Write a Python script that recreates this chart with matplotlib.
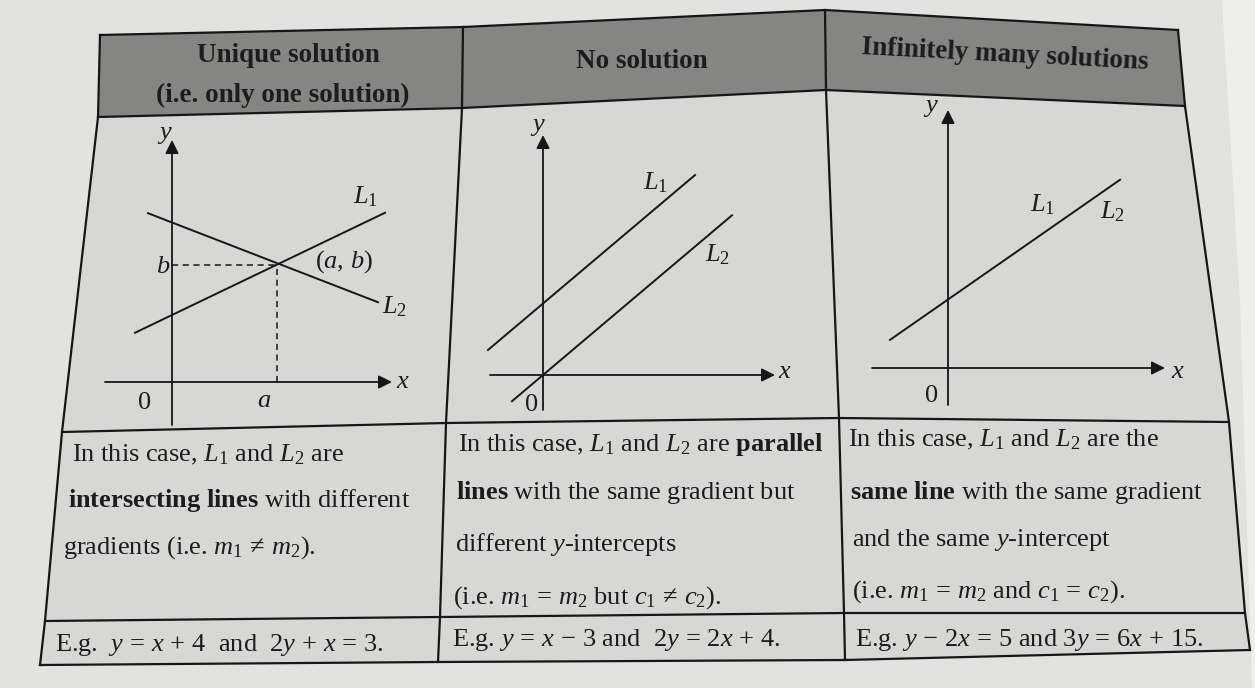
import matplotlib
matplotlib.use('Agg')
import matplotlib.pyplot as plt
from matplotlib.patches import Polygon
import numpy as np

plt.rcParams['font.family'] = ['Liberation Serif', 'DejaVu Serif']
plt.rcParams['mathtext.fontset'] = 'custom'
plt.rcParams['mathtext.rm'] = 'Liberation Serif'
plt.rcParams['mathtext.it'] = 'Liberation Serif:italic'
plt.rcParams['mathtext.bf'] = 'Liberation Serif:bold'
plt.rcParams['mathtext.fallback'] = 'stix'

# ---- table text ----
headers = [['Unique solution', '(i.e. only one solution)'],
           ['No solution'],
           ['Infinitely many solutions']]

descriptions = [
    [r'In this case, $L_1$ and $L_2$ are',
     r'$\mathbf{intersecting\ lines}$ with different',
     r'gradients (i.e. $m_1 \,\neq\, m_2$).'],
    [r'In this case, $L_1$ and $L_2$ are $\mathbf{parallel}$',
     r'$\mathbf{lines}$ with the same gradient but',
     r'different $y$-intercepts',
     r'(i.e. $m_1 \,=\, m_2$ but $c_1 \,\neq\, c_2$).'],
    [r'In this case, $L_1$ and $L_2$ are the',
     r'$\mathbf{same\ line}$ with the same gradient',
     r'and the same $y$-intercept',
     r'(i.e. $m_1 \,=\, m_2$ and $c_1 \,=\, c_2$).'],
]

examples = [r'E.g.  $y \,=\, x \,+\, 4$  and  $2y \,+\, x \,=\, 3$.',
            r'E.g. $y \,=\, x \,-\, 3$ and  $2y \,=\, 2x \,+\, 4$.',
            r'E.g. $y \,-\, 2x \,=\, 5$ and $3y \,=\, 6x \,+\, 15$.']

# ---- sketch data (each sketch in its own units) ----
# unique solution: intersection point (a, b)
a_pt, b_pt = 2.1, 2.35
unique_lines = {'L1': (0.48, 1.34, -0.74, 4.26),     # slope, intercept, x from, x to
                'L2': (-0.387, 3.19, -0.48, 4.12)}
parallel_lines = {'L1': (0.845, 1.43, -1.1, 3.04),
                  'L2': (0.845, 0.0, -0.62, 3.78)}
same_lines = {'L1': (0.696, 1.37, -1.16, 3.44)}

x_axis_span = [(-1.34, 4.4), (-1.06, 4.64), (-1.52, 4.34)]
y_axis_span = [(-0.86, 4.84), (-0.7, 4.8), (-0.74, 5.16)]

W, H = 1255, 688
fig = plt.figure(figsize=(W / 100, H / 100), dpi=100)
fig.patch.set_facecolor('#e2e2e0')
ax = fig.add_axes([0, 0, 1, 1])
ax.set_xlim(0, W)
ax.set_ylim(H, 0)
ax.axis('off')

# page edge on the right
ax.add_patch(Polygon([(1222, 0), (W, 0), (W, H), (1252, H), (1240, 300)],
                     closed=True, fc='#eeeeed', ec='none', zorder=0))

# table grid nodes (rows: top, header bottom, sketch bottom, text bottom, bottom)
nodes = np.array([
    [(100, 35), (463, 27), (825, 10), (1178, 30)],
    [(98, 117), (462, 108), (826, 90), (1185, 106)],
    [(62, 432), (446, 423), (839, 418), (1229, 422)],
    [(45, 621), (440, 617), (844, 613), (1245, 613)],
    [(40, 665), (438, 662), (845, 660), (1250, 650)],
], dtype=float)

body = list(nodes[1]) + [nodes[2][3], nodes[3][3]] + list(nodes[4][::-1]) \
    + [nodes[3][0], nodes[2][0]]
ax.add_patch(Polygon(body, closed=True, fc='#d7d7d5', ec='none', zorder=1))
head = list(nodes[0]) + list(nodes[1][::-1])
ax.add_patch(Polygon(head, closed=True, fc='#858583', ec='none', zorder=1))

lc = '#161616'
for r in range(nodes.shape[0]):
    ax.plot(nodes[r, :, 0], nodes[r, :, 1], color=lc, lw=1.6, zorder=3)
for c in range(nodes.shape[1]):
    ax.plot(nodes[:, c, 0], nodes[:, c, 1], color=lc, lw=1.6, zorder=3)

# header text
tc = '#1c1c1c'
fs_head = 19.5
fs = 19
ax.text(288, 55, headers[0][0], ha='center', va='center', fontsize=fs_head,
        fontweight='bold', color=tc, zorder=4)
ax.text(283, 95, headers[0][1], ha='center', va='center', fontsize=fs_head,
        fontweight='bold', color=tc, zorder=4)
ax.text(642, 62, headers[1][0], ha='center', va='center', fontsize=fs_head,
        fontweight='bold', color=tc, zorder=4)
ax.text(1005, 55, headers[2][0], ha='center', va='center', fontsize=fs_head,
        fontweight='bold', color=tc, rotation=-3, zorder=4)

# description text
desc_pos = [[(72, 455), (68, 500), (63, 548)],
            [(458, 445), (456, 492), (455, 545), (453, 598)],
            [(848, 440), (850, 493), (852, 540), (852, 592)]]
for lines, pos in zip(descriptions, desc_pos):
    for s, (x, y) in zip(lines, pos):
        ax.text(x, y, s, ha='left', va='center', fontsize=fs, color=tc, zorder=4)

ex_pos = [(55, 645), (452, 640), (855, 640)]
for s, (x, y) in zip(examples, ex_pos):
    ax.text(x, y, s, ha='left', va='center', fontsize=fs, color=tc, zorder=4)


# ---- sketches ----
def sketch_axes(origin, box, unit=50.0):
    ox, oy = origin
    x0, y0, x1, y1 = box
    sax = fig.add_axes([x0 / W, 1 - y1 / H, (x1 - x0) / W, (y1 - y0) / H])
    sax.set_xlim((x0 - ox) / unit, (x1 - ox) / unit)
    sax.set_ylim((oy - y1) / unit, (oy - y0) / unit)
    sax.axis('off')
    sax.patch.set_alpha(0)
    return sax


def draw_axes_arrows(sax, xs, ys):
    ap = dict(arrowstyle='-|>', lw=1.3, color=lc, mutation_scale=20,
              shrinkA=0, shrinkB=0)
    sax.annotate('', xy=(xs[1], 0), xytext=(xs[0], 0), arrowprops=ap)
    sax.annotate('', xy=(0, ys[1]), xytext=(0, ys[0]), arrowprops=ap)


def draw_line(sax, spec):
    m, c, xa, xb = spec
    xx = np.array([xa, xb])
    sax.plot(xx, m * xx + c, color=lc, lw=1.4)


lab = dict(fontsize=19, color=tc)

s1 = sketch_axes((172, 382), (100, 120, 430, 430))
draw_axes_arrows(s1, x_axis_span[0], y_axis_span[0])
for k in unique_lines:
    draw_line(s1, unique_lines[k])
s1.plot([0, a_pt], [b_pt, b_pt], color=lc, lw=1.1, ls=(0, (4, 3)))
s1.plot([a_pt, a_pt], [0, b_pt], color=lc, lw=1.1, ls=(0, (4, 3)))
s1.text(-0.15, 4.95, '$y$', ha='center', va='center', **lab)
s1.text(4.62, 0.0, '$x$', ha='center', va='center', **lab)
s1.text(-0.54, -0.42, '0', ha='center', va='center', **lab)
s1.text(a_pt - 0.25, -0.38, '$a$', ha='center', va='center', **lab)
s1.text(-0.18, b_pt - 0.05, '$b$', ha='center', va='center', **lab)
s1.text(a_pt + 1.35, b_pt + 0.05, '$(a,\\, b)$', ha='center', va='center', **lab)
s1.text(3.88, 3.7, '$L_1$', ha='center', va='center', **lab)
s1.text(4.46, 1.5, '$L_2$', ha='center', va='center', **lab)

s2 = sketch_axes((543, 375), (470, 110, 820, 425))
draw_axes_arrows(s2, x_axis_span[1], y_axis_span[1])
for k in parallel_lines:
    draw_line(s2, parallel_lines[k])
s2.text(-0.1, 4.95, '$y$', ha='center', va='center', **lab)
s2.text(4.84, 0.05, '$x$', ha='center', va='center', **lab)
s2.text(-0.22, -0.6, '0', ha='center', va='center', **lab)
s2.text(2.26, 3.84, '$L_1$', ha='center', va='center', **lab)
s2.text(3.5, 2.4, '$L_2$', ha='center', va='center', **lab)

s3 = sketch_axes((948, 368), (860, 95, 1200, 420))
draw_axes_arrows(s3, x_axis_span[2], y_axis_span[2])
for k in same_lines:
    draw_line(s3, same_lines[k])
s3.text(-0.34, 5.2, '$y$', ha='center', va='center', **lab)
s3.text(4.6, -0.08, '$x$', ha='center', va='center', **lab)
s3.text(-0.32, -0.56, '0', ha='center', va='center', **lab)
s3.text(1.9, 3.26, '$L_1$', ha='center', va='center', **lab)
s3.text(3.3, 3.12, '$L_2$', ha='center', va='center', **lab)

fig.savefig('out.png', dpi=100, facecolor=fig.get_facecolor())
